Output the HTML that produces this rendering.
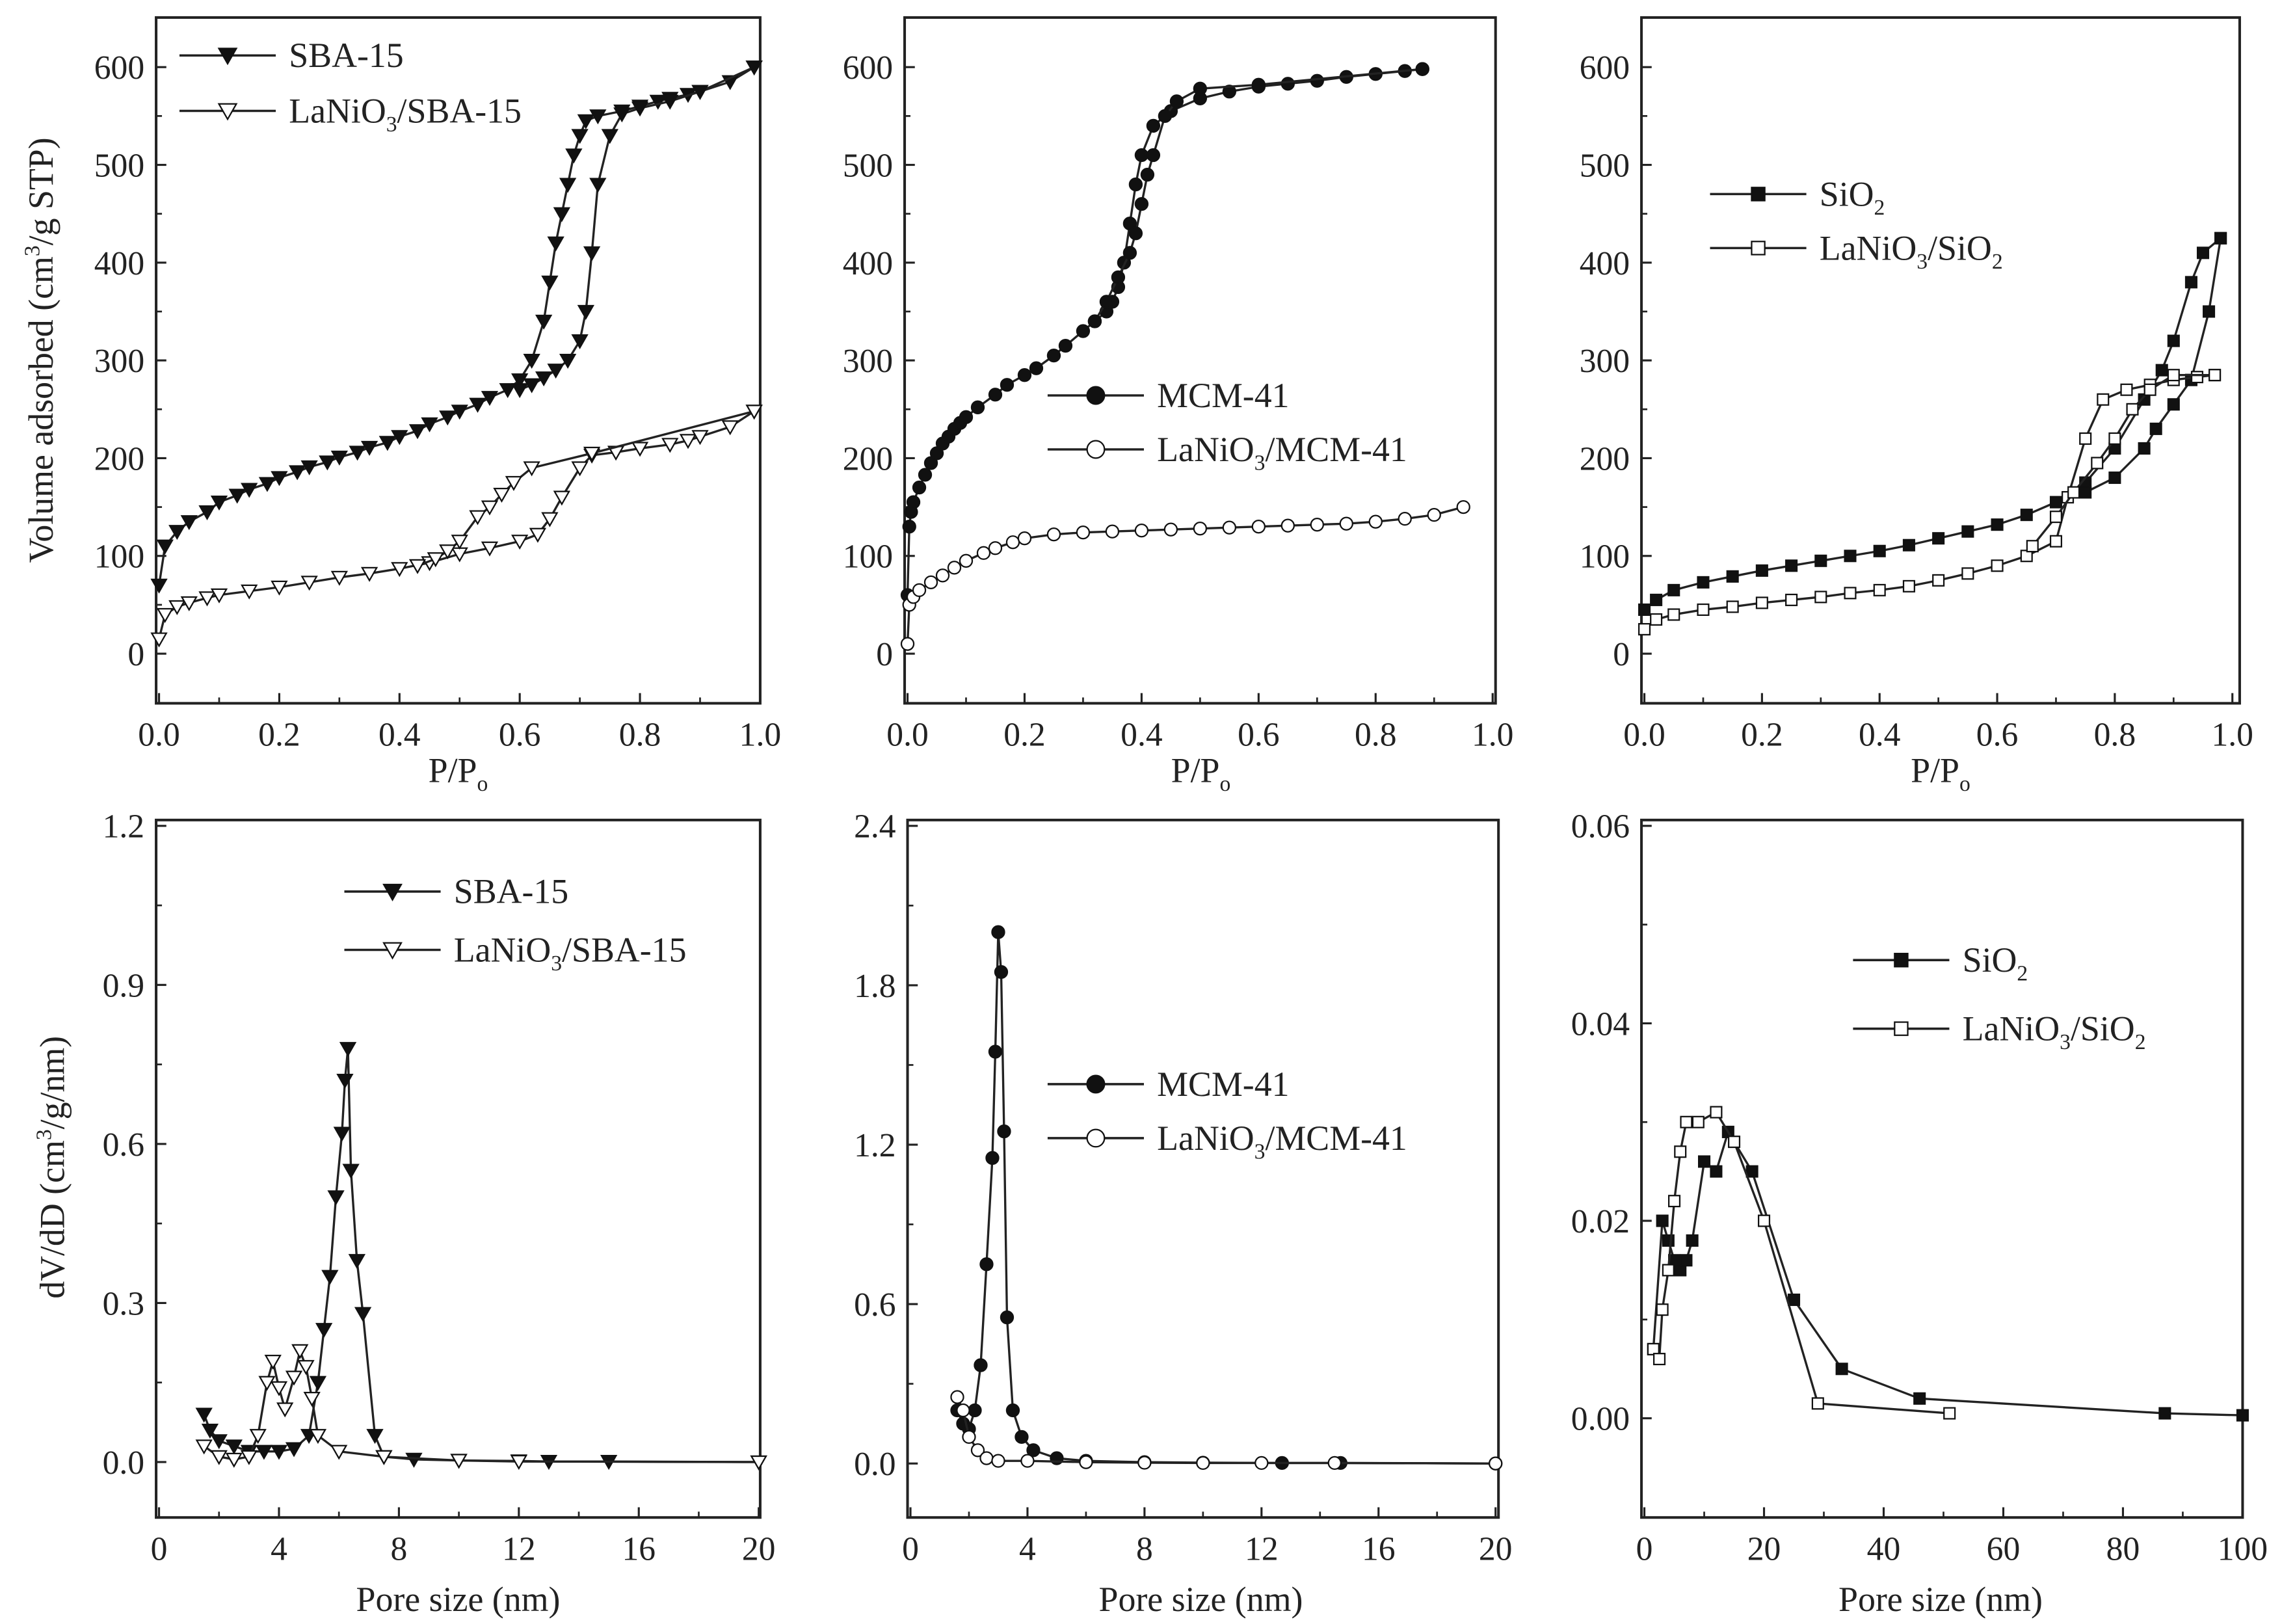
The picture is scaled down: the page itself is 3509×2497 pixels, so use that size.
<!DOCTYPE html>
<html><head><meta charset="utf-8"><style>
html,body{margin:0;padding:0;background:#fff}
svg{display:block}
text{font-family:"Liberation Serif",serif;fill:#222}
</style></head><body>
<svg id="fig" xmlns="http://www.w3.org/2000/svg" width="3509" height="2497" viewBox="0 0 1564 1113" preserveAspectRatio="none"></svg>
<script>
// ---- data ----
const sbaAdsX=[0,0.01,0.03,0.05,0.08,0.1,0.13,0.15,0.18,0.2,0.23,0.25,0.28,0.3,0.33,0.35,0.38,0.4,0.43,0.45,0.48,0.5,0.53,0.55,0.58,0.6,0.62,0.64,0.65,0.66,0.67,0.68,0.69,0.7,0.71,0.73,0.77,0.8,0.83,0.85,0.88,0.9,0.95,0.99];
const sbaAdsY=[70,110,125,135,145,155,162,168,174,180,186,191,196,201,206,211,216,222,228,235,242,248,255,262,270,280,300,340,380,420,450,480,510,530,545,550,555,560,565,568,572,575,585,600];
const sbaDesX=[0.99,0.9,0.85,0.8,0.77,0.75,0.73,0.72,0.71,0.7,0.68,0.66,0.64,0.62,0.6];
const sbaDesY=[600,575,565,558,552,530,480,410,350,320,300,290,282,275,270];
const laSbaAdsX=[0,0.01,0.03,0.05,0.08,0.1,0.15,0.2,0.25,0.3,0.35,0.4,0.45,0.5,0.55,0.6,0.63,0.65,0.67,0.7,0.72,0.76,0.8,0.85,0.88,0.9,0.95,0.99];
const laSbaAdsY=[15,40,48,52,57,60,64,68,73,78,82,87,93,102,108,115,122,138,160,190,203,206,210,214,218,222,232,248];
const laSbaDesX=[0.99,0.72,0.62,0.59,0.57,0.55,0.53,0.5,0.48,0.46,0.43];
const laSbaDesY=[248,205,190,175,163,150,140,115,105,97,90];
const mcmAdsX=[0,0.003,0.006,0.01,0.02,0.03,0.04,0.05,0.06,0.07,0.08,0.09,0.1,0.12,0.15,0.17,0.2,0.22,0.25,0.27,0.3,0.32,0.34,0.35,0.36,0.37,0.38,0.39,0.4,0.42,0.45,0.5,0.55,0.6,0.65,0.7,0.75,0.8,0.85,0.88];
const mcmAdsY=[60,130,145,155,170,183,195,205,215,222,230,236,242,252,265,275,285,292,305,315,330,340,350,360,375,400,440,480,510,540,555,568,575,580,583,586,590,593,596,598];
const mcmDesX=[0.88,0.6,0.5,0.46,0.44,0.42,0.41,0.4,0.39,0.38,0.36,0.34,0.32];
const mcmDesY=[598,582,578,565,550,510,490,460,430,410,385,360,340];
const laMcmX=[0,0.003,0.01,0.02,0.04,0.06,0.08,0.1,0.13,0.15,0.18,0.2,0.25,0.3,0.35,0.4,0.45,0.5,0.55,0.6,0.65,0.7,0.75,0.8,0.85,0.9,0.95];
const laMcmY=[10,50,58,65,73,80,88,95,103,108,114,118,122,124,125,126,127,128,129,130,131,132,133,135,138,142,150];
const sioAdsX=[0,0.02,0.05,0.1,0.15,0.2,0.25,0.3,0.35,0.4,0.45,0.5,0.55,0.6,0.65,0.7,0.75,0.8,0.85,0.88,0.9,0.93,0.95,0.98];
const sioAdsY=[45,55,65,73,79,85,90,95,100,105,111,118,125,132,142,155,175,210,260,290,320,380,410,425];
const sioDesX=[0.98,0.96,0.93,0.9,0.87,0.85,0.8,0.75];
const sioDesY=[425,350,280,255,230,210,180,165];
const laSioAdsX=[0,0.02,0.05,0.1,0.15,0.2,0.25,0.3,0.35,0.4,0.45,0.5,0.55,0.6,0.65,0.7,0.72,0.75,0.78,0.82,0.86,0.9,0.94,0.97];
const laSioAdsY=[25,35,40,45,48,52,55,58,62,65,69,75,82,90,100,115,160,220,260,270,275,280,283,285];
const laSioDesX=[0.97,0.9,0.86,0.83,0.8,0.77,0.73,0.7,0.66];
const laSioDesY=[285,285,270,250,220,195,165,140,110];
const psdSbaX=[1.5,1.7,2,2.5,3,3.5,4,4.5,5,5.3,5.5,5.7,5.9,6.1,6.2,6.3,6.4,6.6,6.8,7.2,7.5,8.5,10,12,13,15,20];
const psdSbaY=[0.09,0.06,0.04,0.03,0.02,0.02,0.02,0.025,0.05,0.15,0.25,0.35,0.5,0.62,0.72,0.78,0.55,0.38,0.28,0.05,0.01,0.005,0.003,0.002,0.001,0.001,0];
const psdLaSbaX=[1.5,2,2.5,3,3.3,3.6,3.8,4,4.2,4.5,4.7,4.9,5.1,5.3,6,7.5,10,12,20];
const psdLaSbaY=[0.03,0.01,0.005,0.01,0.05,0.15,0.19,0.14,0.1,0.16,0.21,0.18,0.12,0.05,0.02,0.01,0.003,0.001,0];
const psdMcmX=[1.6,1.8,2,2.2,2.4,2.6,2.8,2.9,3,3.1,3.2,3.3,3.5,3.8,4.2,5,6,8,10,12.7,14.7,20];
const psdMcmY=[0.2,0.15,0.13,0.2,0.37,0.75,1.15,1.55,2.0,1.85,1.25,0.55,0.2,0.1,0.05,0.02,0.01,0.005,0.003,0.002,0.002,0];
const psdLaMcmX=[1.6,1.8,2,2.3,2.6,3,4,6,8,10,12,14.5,20];
const psdLaMcmY=[0.25,0.2,0.1,0.05,0.02,0.01,0.01,0.005,0.003,0.002,0.002,0.002,0];
const psdSioX=[1.5,3,4,5,6,7,8,10,12,14,18,25,33,46,87,100];
const psdSioY=[0.007,0.02,0.018,0.016,0.015,0.016,0.018,0.026,0.025,0.029,0.025,0.012,0.005,0.002,0.0005,0.0003];
const psdLaSioX=[1.5,2.5,3,4,5,6,7,9,12,15,20,29,51];
const psdLaSioY=[0.007,0.006,0.011,0.015,0.022,0.027,0.030,0.030,0.031,0.028,0.02,0.0015,0.0005];
const isoTicksX=["0.0","0.2","0.4","0.6","0.8","1.0"];
const isoTicksY=["0","100","200","300","400","500","600"];
// ---- drawing ----
const svg=document.getElementById('fig');
const NS='http://www.w3.org/2000/svg';
function mk(tag,attrs,parent){const e=document.createElementNS(NS,tag);for(const k in attrs)e.setAttribute(k,attrs[k]);(parent||svg).appendChild(e);return e;}
function axis(d0,d1,p0,p1){return v=>p0+(v-d0)/(d1-d0)*(p1-p0);}
function panel(name,box,sx,sy,xt,yt,xlabels,ylabels,minorX,minorY){
  const g=mk('g',{});
  
  
  const fr=mk('rect',{x:box[0],y:box[1],width:box[2]-box[0],height:box[3]-box[1],fill:'none',stroke:'#222','stroke-width':1.8},g);
  
  
  xt.forEach((v,i)=>{const x=sx(v);mk('line',{x1:x,x2:x,y1:box[3],y2:box[3]-7,stroke:'#222','stroke-width':1.4},g);
    const t=mk('text',{x:x,y:box[3]+29,'font-size':23,'text-anchor':'middle'},g);t.textContent=xlabels[i];
    });
  minorX.forEach(v=>{const x=sx(v);mk('line',{x1:x,x2:x,y1:box[3],y2:box[3]-4,stroke:'#222','stroke-width':1.2},g);});
  yt.forEach((v,i)=>{const y=sy(v);mk('line',{x1:box[0],x2:box[0]+7,y1:y,y2:y,stroke:'#222','stroke-width':1.4},g);
    const t=mk('text',{x:box[0]-8,y:y+8,'font-size':23,'text-anchor':'end'},g);t.textContent=ylabels[i];
    });
  minorY.forEach(v=>{const y=sy(v);mk('line',{x1:box[0],x2:box[0]+4,y1:y,y2:y,stroke:'#222','stroke-width':1.2},g);});
  return g;
}
function marker(g,type,fill,x,y,s){
  const st=fill?'#111':'#fff';
  if(type==='tri') return mk('polygon',{points:`${x-s},${y-s*0.8} ${x+s},${y-s*0.8} ${x},${y+s*0.95}`,fill:st,stroke:'#111','stroke-width':1},g);
  if(type==='circ') return mk('circle',{cx:x,cy:y,r:s*0.85,fill:st,stroke:'#111','stroke-width':1},g);
  return mk('rect',{x:x-s*0.75,y:y-s*0.75,width:s*1.5,height:s*1.5,fill:st,stroke:'#111','stroke-width':1},g);
}
function series(g,name,xs,ys,sx,sy,type,fill,s){
  const sg=mk('g',{},g);
  
  
  const pts=xs.map((v,i)=>sx(v)+','+sy(ys[i])).join(' ');
  mk('polyline',{points:pts,fill:'none',stroke:'#222','stroke-width':1.5},sg);
  xs.forEach((v,i)=>marker(sg,type,fill,sx(v),sy(ys[i]),s));
}
function legend(g,x,y,entries,type,s){
  entries.forEach((e,i)=>{const yy=y+i*e[2];
    const lg=mk('g',{},g);
    
    
    mk('line',{x1:x,x2:x+66,y1:yy,y2:yy,stroke:'#222','stroke-width':1.6},lg);
    marker(lg,type,e[1],x+33,yy,s);
    const t=mk('text',{x:x+75,y:yy+8,'font-size':24},lg);t.innerHTML=e[0];});
}
const range=(a,b,st)=>{const r=[];for(let v=a;v<=b+1e-9;v+=st)r.push(+v.toFixed(6));return r;};
const isoY=axis(0,600,448,46);
const isoYt=isoTicksY.map(Number), isoXt=isoTicksX.map(Number);
// panel 1
let sx=axis(0,1,109,521);
let g=panel('sba15-isotherm',[107,12,521,482],sx,isoY,isoXt,isoYt,isoTicksX,isoTicksY,range(0.1,0.9,0.2),range(50,550,100));
series(g,'sba15-adsorption',sbaAdsX,sbaAdsY,sx,isoY,'tri',true,5);
series(g,'sba15-desorption',sbaDesX,sbaDesY,sx,isoY,'tri',true,5);
series(g,'lanio3-sba15-adsorption',laSbaAdsX,laSbaAdsY,sx,isoY,'tri',false,5);
series(g,'lanio3-sba15-desorption',laSbaDesX,laSbaDesY,sx,isoY,'tri',false,5);
legend(g,123,38,[['SBA-15',true,38],['LaNiO<tspan font-size="15" dy="6">3</tspan><tspan dy="-6">/SBA-15</tspan>',false,38]],'tri',6);
// panel 2
sx=axis(0,1,622,1023);
g=panel('mcm41-isotherm',[620,12,1025,482],sx,isoY,isoXt,isoYt,isoTicksX,isoTicksY,range(0.1,0.9,0.2),range(50,550,100));
series(g,'mcm41-adsorption',mcmAdsX,mcmAdsY,sx,isoY,'circ',true,5);
series(g,'mcm41-desorption',mcmDesX,mcmDesY,sx,isoY,'circ',true,5);
series(g,'lanio3-mcm41',laMcmX,laMcmY,sx,isoY,'circ',false,5);
legend(g,718,271,[['MCM-41',true,37],['LaNiO<tspan font-size="15" dy="6">3</tspan><tspan dy="-6">/MCM-41</tspan>',false,37]],'circ',7);
// panel 3
sx=axis(0,1,1127,1530);
g=panel('sio2-isotherm',[1125,12,1535,482],sx,isoY,isoXt,isoYt,isoTicksX,isoTicksY,range(0.1,0.9,0.2),range(50,550,100));
series(g,'sio2-adsorption',sioAdsX,sioAdsY,sx,isoY,'sq',true,5);
series(g,'sio2-desorption',sioDesX,sioDesY,sx,isoY,'sq',true,5);
series(g,'lanio3-sio2-adsorption',laSioAdsX,laSioAdsY,sx,isoY,'sq',false,5);
series(g,'lanio3-sio2-desorption',laSioDesX,laSioDesY,sx,isoY,'sq',false,5);
legend(g,1172,133,[['SiO<tspan font-size="15" dy="6">2</tspan>',true,37],['LaNiO<tspan font-size="15" dy="6">3</tspan><tspan dy="-6">/SiO</tspan><tspan font-size="15" dy="6">2</tspan>',false,37]],'sq',6);
// panel 4
sx=axis(0,20,109,520); let sy=axis(0,1.2,1002,566);
g=panel('sba15-psd',[107,562,521,1040],sx,sy,range(0,20,4),range(0,1.2,0.3),['0','4','8','12','16','20'],['0.0','0.3','0.6','0.9','1.2'],range(2,18,4),range(0.15,1.05,0.3));
series(g,'sba15-psd-series',psdSbaX,psdSbaY,sx,sy,'tri',true,5);
series(g,'lanio3-sba15-psd-series',psdLaSbaX,psdLaSbaY,sx,sy,'tri',false,5);
legend(g,236,611,[['SBA-15',true,40],['LaNiO<tspan font-size="15" dy="6">3</tspan><tspan dy="-6">/SBA-15</tspan>',false,40]],'tri',6);
// panel 5
sx=axis(0,20,624,1025); sy=axis(0,2.4,1003,566);
g=panel('mcm41-psd',[622,562,1027,1040],sx,sy,range(0,20,4),range(0,2.4,0.6),['0','4','8','12','16','20'],['0.0','0.6','1.2','1.8','2.4'],range(2,18,4),range(0.3,2.1,0.6));
series(g,'mcm41-psd-series',psdMcmX,psdMcmY,sx,sy,'circ',true,5);
series(g,'lanio3-mcm41-psd-series',psdLaMcmX,psdLaMcmY,sx,sy,'circ',false,5);
legend(g,718,743,[['MCM-41',true,37],['LaNiO<tspan font-size="15" dy="6">3</tspan><tspan dy="-6">/MCM-41</tspan>',false,37]],'circ',7);
// panel 6
sx=axis(0,100,1127,1537); sy=axis(0,0.06,972,566);
g=panel('sio2-psd',[1125,562,1537,1040],sx,sy,range(0,100,20),range(0,0.06,0.02),['0','20','40','60','80','100'],['0.00','0.02','0.04','0.06'],range(10,90,20),range(0.01,0.05,0.02));
series(g,'sio2-psd-series',psdSioX,psdSioY,sx,sy,'sq',true,5);
series(g,'lanio3-sio2-psd-series',psdLaSioX,psdLaSioY,sx,sy,'sq',false,5);
legend(g,1270,658,[['SiO<tspan font-size="15" dy="6">2</tspan>',true,47],['LaNiO<tspan font-size="15" dy="6">3</tspan><tspan dy="-6">/SiO</tspan><tspan font-size="15" dy="6">2</tspan>',false,47]],'sq',6);
// axis titles
function title(txt,x,y,rot,name){const t=mk('text',{x:x,y:y,'font-size':24,'text-anchor':'middle',transform:rot?`rotate(-90 ${x} ${y})`:''});t.innerHTML=txt;
  }
title('Volume adsorbed (cm<tspan font-size="15" dy="-9">3</tspan><tspan dy="9">/g STP)</tspan>',36,240,true,'y-axis-title-volume');
title('dV/dD (cm<tspan font-size="15" dy="-9">3</tspan><tspan dy="9">/g/nm)</tspan>',44,800,true,'y-axis-title-dvdd');
[314,823,1330].forEach(x=>{title('P/P<tspan font-size="15" dy="6">o</tspan>',x,536,false,'x-axis-title-pressure');
  title('Pore size (nm)',x,1104,false,'x-axis-title-pore-size');});
</script>
</body></html>
